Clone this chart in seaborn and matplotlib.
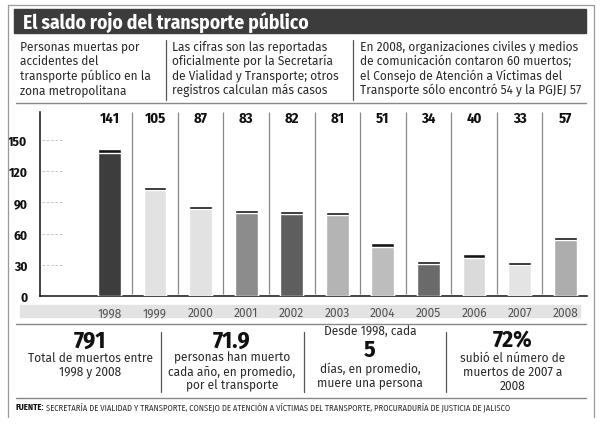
import matplotlib
matplotlib.use("Agg")
import matplotlib.pyplot as plt
from matplotlib.patches import Rectangle
from matplotlib.lines import Line2D
import seaborn as sns
import pandas as pd

years = ["1998", "1999", "2000", "2001", "2002", "2003", "2004", "2005", "2006", "2007", "2008"]
deaths = [141, 105, 87, 83, 82, 81, 51, 34, 40, 33, 57]
bar_colors = ["#3d3d3d", "#e2e2e2", "#e2e2e2", "#8c8c8c", "#5e5e5e", "#b4b4b4",
              "#bdbdbd", "#6a6a6a", "#dadada", "#e4e4e4", "#adadad"]
y_ticks = [0, 30, 60, 90, 120, 150]

title = "El saldo rojo del transporte público"
intro_cols = [
    ["Personas muertas por", "accidentes del", "transporte público en la", "zona metropolitana"],
    ["Las cifras son las reportadas", "oficialmente por la Secretaría",
     "de Vialidad y Transporte; otros", "registros calculan más casos"],
    ["En 2008, organizaciones civiles y medios", "de comunicación contaron 60 muertos;",
     "el Consejo de Atención a Víctimas del", "Transporte sólo encontró 54 y la PGJEJ 57"],
]
stat_numbers = ["791", "71.9", "5", "72%"]
stat_texts = [
    ["Total de muertos entre", "1998 y 2008"],
    ["personas han muerto", "cada año, en promedio,", "por el transporte"],
    ["días, en promedio,", "muere una persona"],
    ["subió el número de", "muertos de 2007 a", "2008"],
]
stat_pre = "Desde 1998, cada"
source_head = "FUENTE:"
source_text = (" SECRETARÍA DE VIALIDAD Y TRANSPORTE, CONSEJO DE ATENCIÓN A VÍCTIMAS DEL "
               "TRANSPORTE, PROCURADURÍA DE JUSTICIA DE JALISCO")

df = pd.DataFrame({"year": years, "deaths": deaths})
df["body"] = df["deaths"] - 3.5

W, H = 600, 427
COND = ["Fira Sans Condensed", "Liberation Sans Narrow", "DejaVu Sans"]
BODY = ["Fira Sans", "Lato", "DejaVu Sans"]


def fx(x):
    return x / W


def fy(y):
    return 1 - y / H


sns.set_style("white")
plt.rcParams["font.family"] = BODY

fig = plt.figure(figsize=(6, 4.27), dpi=100)
fig.patch.set_facecolor("white")

# frame
for xs, ys in [((8, 594), (6, 6)), ((8, 8), (6, 418)), ((594, 594), (6, 418))]:
    fig.add_artist(Line2D([fx(v) for v in xs], [fy(v) for v in ys], color="#999999", lw=0.9))

# title bar
fig.add_artist(Rectangle((fx(14), fy(34)), fx(586) - fx(14), fy(10) - fy(34),
                         transform=fig.transFigure, color="#3c3c3c", zorder=0))
fig.text(fx(23), fy(22.5), title, color="white", fontsize=14, fontweight="bold",
         family=COND, va="center", ha="left")

# intro columns
body_kw = dict(fontsize=8.6, color="#2a2a2a", fontweight="normal")
col_x = [20, 172, 360]
line_y = [47, 61.5, 76, 90.5]
for cx, lines in zip(col_x, intro_cols):
    for ly, txt in zip(line_y, lines):
        fig.text(fx(cx), fy(ly), txt, va="center", ha="left", **body_kw)
for sx in [166, 353]:
    fig.add_artist(Line2D([fx(sx), fx(sx)], [fy(41), fy(101)], color="#555555", lw=0.9))
for hy in [104, 325, 399]:
    fig.add_artist(Line2D([fx(16), fx(586)], [fy(hy), fy(hy)], color="#888888", lw=1.0))

# year band
fig.add_artist(Rectangle((fx(20), fy(318)), fx(580) - fx(20), fy(306) - fy(318),
                         transform=fig.transFigure, color="#e3e3e3", zorder=0))

# bar chart
ax = fig.add_axes([fx(40), fy(297), fx(587) - fx(40), (297 - 113) / H])
ax.set_facecolor("none")
sns.barplot(data=df, x="year", y="deaths", color="#151515", width=0.5,
            saturation=1, ax=ax, zorder=3)
sns.barplot(data=df, x="year", y="body", hue="year", palette=bar_colors, width=0.5,
            saturation=1, legend=False, ax=ax, zorder=4)
ax.set_xlim(-1.526, 10.48)
ax.set_ylim(0, 177)
ax.set_xlabel("")
ax.set_ylabel("")
ax.set_yticks(y_ticks)
ax.set_yticklabels([str(t) for t in y_ticks], fontweight="bold", family=COND,
                   fontsize=9.5, color="#111111")
ax.tick_params(axis="y", length=0, pad=9)
ax.tick_params(axis="x", length=0, pad=7.5)
for lab in ax.get_xticklabels():
    lab.set_fontsize(8.6)
    lab.set_color("#555555")
for s in ["top", "right"]:
    ax.spines[s].set_visible(False)
for s in ["left", "bottom"]:
    ax.spines[s].set_color("#111111")
    ax.spines[s].set_linewidth(1.1)

# dashed guides near the axis
ax.hlines(y_ticks[1:], -1.48, -1.02, colors="#c4c4c4", linestyles=(0, (2.5, 2)), lw=0.7)

# separators between years and value labels
for i in range(len(years) - 1):
    ax.vlines(i + 0.5, 2, 177, colors="#888888", lw=0.9, zorder=2)
for i, v in enumerate(deaths):
    ax.text(i, 171.5, str(v), ha="center", va="center", fontsize=10.5, fontweight="bold",
            family=COND, color="#111111")

# bottom stats
stat_cx = [90, 232, 370, 513]
for sx in [161, 304, 446]:
    fig.add_artist(Line2D([fx(sx), fx(sx)], [fy(333), fy(393)], color="#555555", lw=0.9))
num_kw = dict(ha="center", va="center", fontsize=17, fontweight="bold", family=COND,
              color="#111111")
for k in [0, 1, 3]:
    fig.text(fx(stat_cx[k]), fy(341), stat_numbers[k], **num_kw)
    for j, txt in enumerate(stat_texts[k]):
        fig.text(fx(stat_cx[k]), fy(358 + j * 14), txt, ha="center", va="center", **body_kw)
fig.text(fx(stat_cx[2]), fy(331), stat_pre, ha="center", va="center", **body_kw)
fig.text(fx(stat_cx[2]), fy(350), stat_numbers[2], **num_kw)
for j, txt in enumerate(stat_texts[2]):
    fig.text(fx(stat_cx[2]), fy(369 + j * 14), txt, ha="center", va="center", **body_kw)

# source
t = fig.text(fx(16), fy(407), source_head, ha="left", va="center", fontsize=6.2,
             fontweight="bold", family=COND, color="#111111")
fig.canvas.draw()
bb = t.get_window_extent()
fig.text(bb.x1 / fig.bbox.width, fy(407), source_text, ha="left", va="center",
         fontsize=6.2, family=COND, color="#333333")

fig.savefig("out.png", dpi=100)
